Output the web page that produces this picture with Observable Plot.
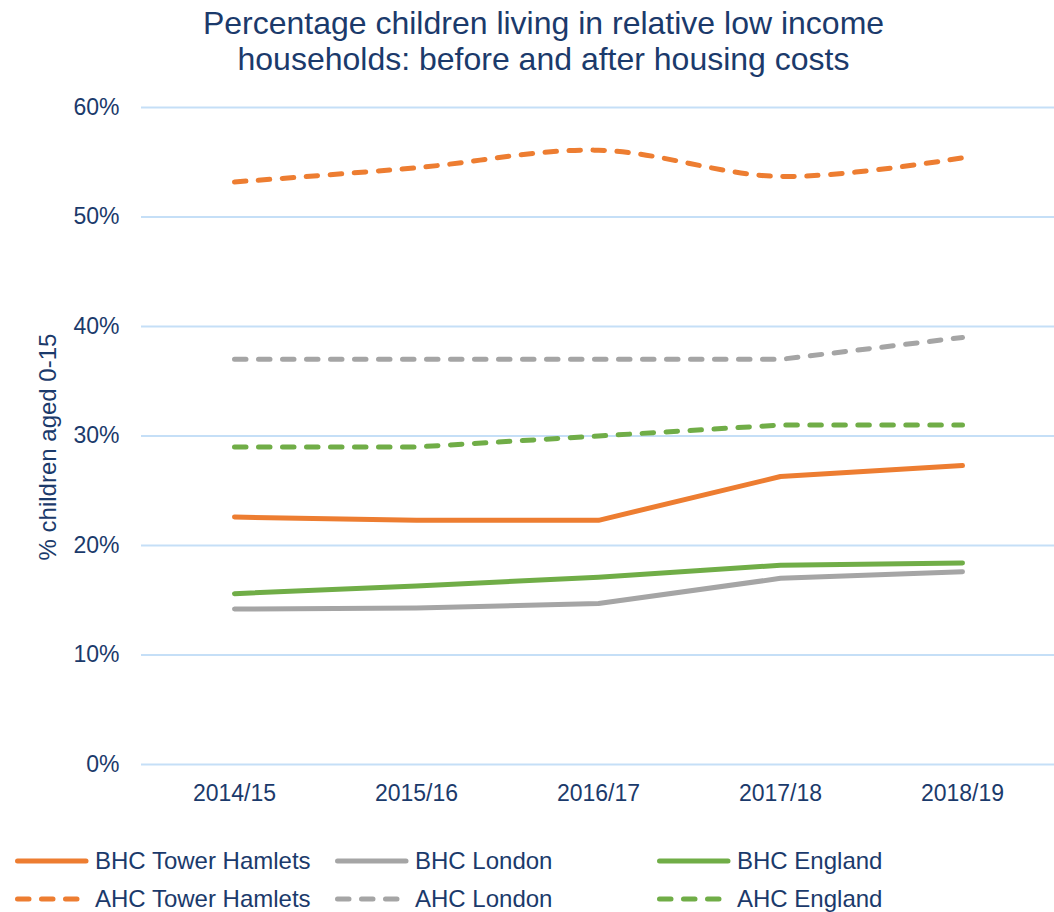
<!DOCTYPE html>
<html>
<head>
<meta charset="utf-8">
<script src="https://cdn.jsdelivr.net/npm/d3@7"></script>
<script src="https://cdn.jsdelivr.net/npm/@observablehq/plot@0.6"></script>
<style>
  html, body { margin: 0; padding: 0; background: #fff; }
  body { width: 1054px; height: 912px; position: relative; overflow: hidden; font-family: "Liberation Sans", Arial, sans-serif; color: #1B3A6B; }
  #title { position: absolute; top: 5px; left: 0; width: 1087px; text-align: center; font-size: 32px; line-height: 36px; }
  #chart { position: absolute; top: 80px; left: 0; }
  #legend { position: absolute; left: 0; top: 0; width: 1054px; height: 912px; pointer-events: none; }
  .item { position: absolute; display: flex; align-items: center; font-size: 24px; white-space: nowrap; height: 30px; }
  .item svg { margin-right: 4px; }
</style>
</head>
<body>
<div id="title">Percentage children living in relative low income<br>households: before and after housing costs</div>
<div id="chart"></div>
<div id="legend"></div>
<script>
const years = ["2014/15", "2015/16", "2016/17", "2017/18", "2018/19"];
const seriesNames = ["BHC Tower Hamlets", "BHC London", "BHC England", "AHC Tower Hamlets", "AHC London", "AHC England"];
const bhcTowerHamlets = [22.6, 22.3, 22.3, 26.3, 27.3];
const bhcLondon = [14.2, 14.3, 14.7, 17.0, 17.6];
const bhcEngland = [15.6, 16.3, 17.1, 18.2, 18.4];
const ahcTowerHamlets = [53.2, 54.5, 56.1, 53.7, 55.4];
const ahcLondon = [37, 37, 37, 37, 39];
const ahcEngland = [29, 29, 30, 31, 31];
const yTicks = [0, 10, 20, 30, 40, 50, 60];
const yLabel = "% children aged 0-15";

const seriesValues = [bhcTowerHamlets, bhcLondon, bhcEngland, ahcTowerHamlets, ahcLondon, ahcEngland];
const colors = ["#ED7D31", "#A5A5A5", "#70AD47", "#ED7D31", "#A5A5A5", "#70AD47"];
const dashed = [false, false, false, true, true, true];
const navy = "#1B3A6B";

const rows = [];
seriesNames.forEach((name, i) => {
  seriesValues[i].forEach((v, j) => rows.push({series: name, year: years[j], value: v}));
});

const lineMarks = seriesNames.map((name, i) => Plot.line(rows.filter(d => d.series === name), {
  x: "year", y: "value",
  stroke: colors[i], strokeWidth: 5, strokeLinecap: "round", strokeLinejoin: "round",
  strokeDasharray: dashed[i] ? "11.5,12.5" : null,
  curve: name === "AHC Tower Hamlets" ? "catmull-rom" : "linear"
}));
const order = [3, 4, 5, 0, 1, 2];

const chart = Plot.plot({
  width: 1054,
  height: 740,
  marginTop: 27,
  marginBottom: 56,
  marginLeft: 141,
  marginRight: 0,
  style: {fontFamily: "'Liberation Sans', Arial, sans-serif", fontSize: "23px", color: navy, background: "#fff"},
  x: {type: "point", domain: years, padding: 0.5},
  y: {domain: [0, 60]},
  marks: [
    Plot.gridY(yTicks, {stroke: "#C5DFF7", strokeOpacity: 1, strokeWidth: 2}),
    Plot.axisY({ticks: yTicks, tickFormat: d => d + "%", tickSize: 0, tickPadding: 22, fill: navy, fontSize: 23, label: null}),
    Plot.text([yLabel], {frameAnchor: "left", dx: -93, dy: 11, rotate: -90, text: d => d, fill: navy, fontSize: 24, textAnchor: "middle"}),
    Plot.axisX({tickSize: 0, tickPadding: 20, fill: navy, fontSize: 23, label: null}),
    ...order.map(i => lineMarks[i])
  ]
});
document.getElementById("chart").appendChild(chart);

const legendPos = [
  [13, 861], [333, 861], [655, 861],
  [13, 899], [333, 899], [655, 899]
];
const legend = document.getElementById("legend");
seriesNames.forEach((name, i) => {
  const div = document.createElement("div");
  div.className = "item";
  div.style.left = legendPos[i][0] + "px";
  div.style.top = (legendPos[i][1] - 15) + "px";
  const ns = "http://www.w3.org/2000/svg";
  const svg = document.createElementNS(ns, "svg");
  svg.setAttribute("width", 78); svg.setAttribute("height", 12);
  const ln = document.createElementNS(ns, "line");
  ln.setAttribute("x1", 4.5); ln.setAttribute("x2", 73); ln.setAttribute("y1", 6); ln.setAttribute("y2", 6);
  ln.setAttribute("stroke", colors[i]); ln.setAttribute("stroke-width", 5); ln.setAttribute("stroke-linecap", "round");
  if (dashed[i]) ln.setAttribute("stroke-dasharray", "11.5,12.5");
  svg.appendChild(ln);
  div.appendChild(svg);
  const span = document.createElement("span");
  span.textContent = name;
  div.appendChild(span);
  legend.appendChild(div);
});
</script>
</body>
</html>
